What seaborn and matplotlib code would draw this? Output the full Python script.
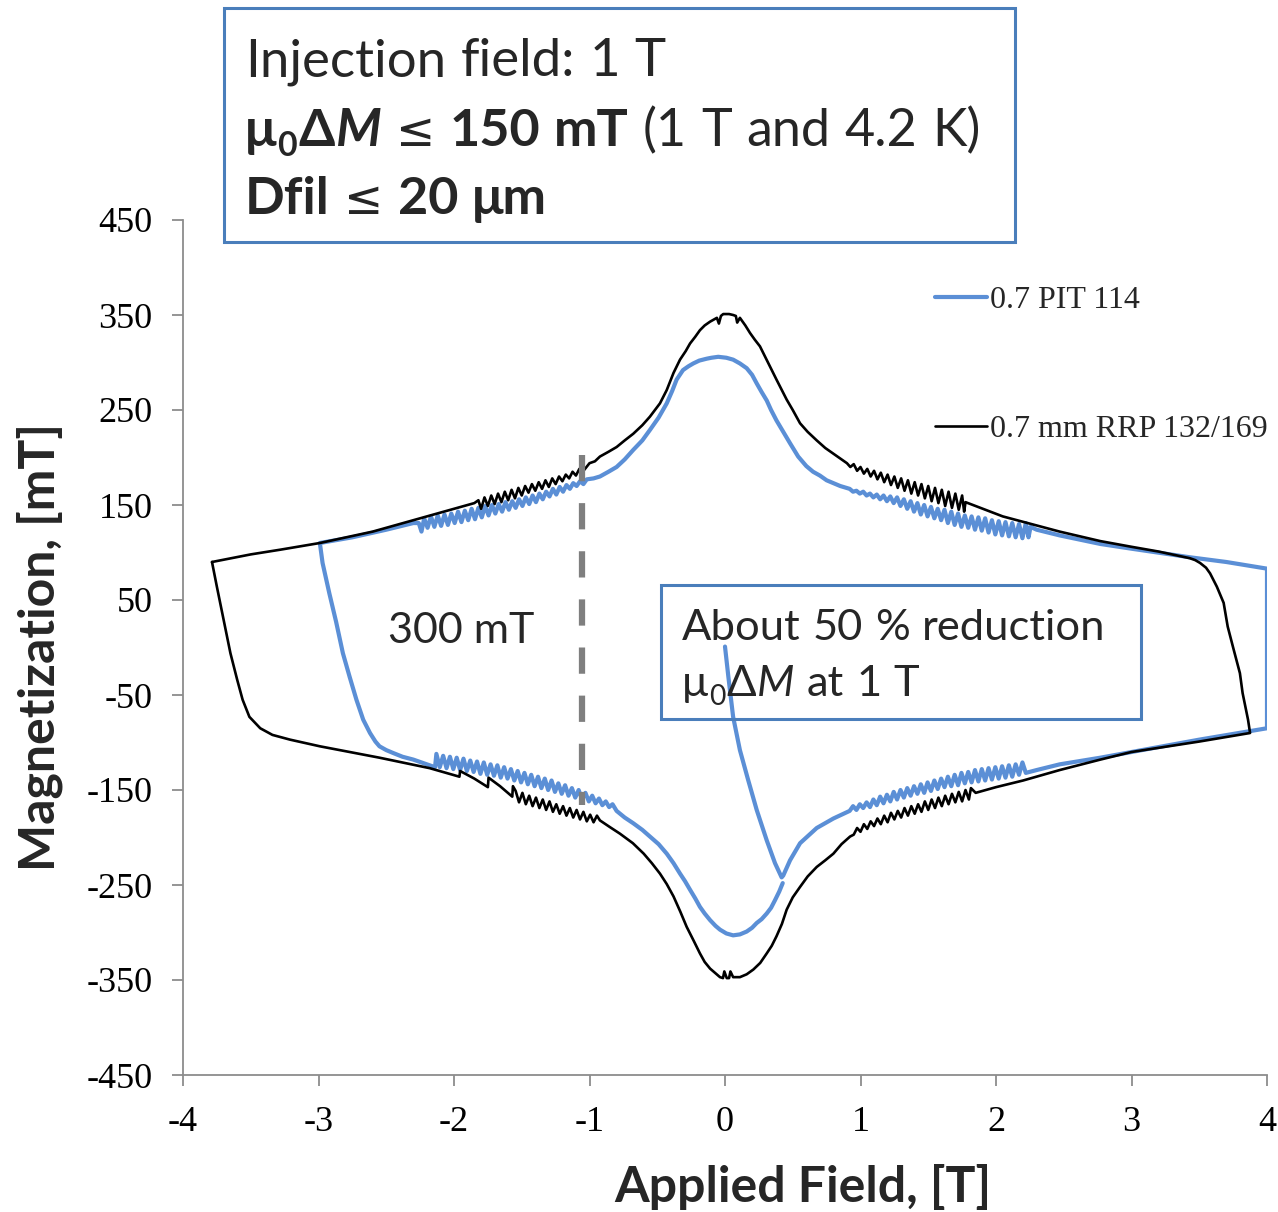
import matplotlib
matplotlib.use("Agg")
import matplotlib.pyplot as plt
import matplotlib.patches as mpatches
import numpy as np
import pandas as pd
import seaborn as sns

# ---------------- data ----------------
# 0.7 PIT 114 (blue) -- one continuous measurement path
pit_virgin = [(0.00, 1), (0.025, -31), (0.06, -73), (0.11, -108), (0.17, -139),
              (0.234, -171), (0.308, -203), (0.369, -227), (0.418, -242)]
pit_lower_right = [(0.43, -240), (0.48, -224), (0.554, -206), (0.677, -190), (0.80, -180),
                   (0.92, -172),
                   (0.945, -167), (0.97, -171), (0.995, -165), (1.02, -169), (1.045, -163),
                   (1.07, -168), (1.095, -160), (1.12, -166), (1.145, -157), (1.17, -164),
                   (1.195, -155), (1.22, -162), (1.245, -152), (1.27, -160), (1.295, -150),
                   (1.32, -158), (1.345, -148), (1.37, -156), (1.395, -146), (1.42, -154),
                   (1.445, -144), (1.47, -153), (1.495, -142), (1.52, -151), (1.545, -140),
                   (1.57, -149), (1.595, -138), (1.62, -147), (1.645, -136), (1.67, -146),
                   (1.695, -134), (1.72, -145), (1.745, -132), (1.77, -143), (1.795, -131),
                   (1.82, -142), (1.845, -129), (1.87, -141), (1.895, -128), (1.92, -140),
                   (1.945, -127), (1.97, -139), (1.995, -126), (2.02, -138), (2.045, -125),
                   (2.07, -137), (2.095, -124), (2.12, -136), (2.145, -123), (2.17, -134),
                   (2.195, -121), (2.22, -132), (2.30, -129), (2.47, -123), (2.77, -116),
                   (3.00, -110), (3.50, -97), (4.00, -85)]
pit_upper_right = [(4.00, 83), (3.70, 90), (3.43, 95), (3.00, 104), (2.77, 109), (2.47, 118),
                   (2.30, 124), (2.255, 127), (2.24, 116),
                   (2.22, 131), (2.195, 115), (2.17, 130), (2.145, 116), (2.12, 131),
                   (2.095, 117), (2.07, 132), (2.045, 118), (2.02, 133), (1.995, 119),
                   (1.97, 134), (1.945, 121), (1.92, 136), (1.895, 123), (1.87, 137),
                   (1.845, 124), (1.82, 138), (1.795, 126), (1.77, 139), (1.745, 127),
                   (1.72, 141), (1.695, 129), (1.67, 143), (1.645, 131), (1.62, 145),
                   (1.595, 134), (1.57, 146), (1.545, 136), (1.52, 148), (1.495, 138),
                   (1.47, 150), (1.445, 140), (1.42, 152), (1.395, 143), (1.37, 154),
                   (1.345, 146), (1.32, 156), (1.295, 149), (1.27, 158), (1.245, 152),
                   (1.22, 159), (1.195, 154), (1.17, 160), (1.145, 156), (1.12, 161),
                   (1.095, 158), (1.07, 162), (1.045, 160), (1.02, 164), (0.995, 162),
                   (0.97, 165), (0.945, 164), (0.92, 167)]
pit_peak = [(0.85, 170), (0.75, 176), (0.70, 181), (0.65, 185), (0.60, 191), (0.54, 201),
            (0.48, 215), (0.43, 227), (0.38, 239), (0.34, 250), (0.308, 260), (0.27, 269),
            (0.234, 278), (0.20, 287), (0.16, 294), (0.11, 299), (0.06, 303), (0.01, 305),
            (-0.05, 306), (-0.10, 305), (-0.135, 304), (-0.19, 302), (-0.234, 299),
            (-0.27, 296), (-0.31, 292), (-0.357, 282), (-0.39, 270), (-0.43, 257),
            (-0.49, 242), (-0.554, 229), (-0.61, 218), (-0.677, 208), (-0.74, 198),
            (-0.80, 190), (-0.86, 185), (-0.923, 180), (-0.97, 178)]
pit_upper_left = [(-1.02, 177), (-1.045, 172), (-1.07, 175), (-1.095, 170), (-1.12, 173),
                  (-1.145, 167), (-1.17, 171), (-1.195, 164), (-1.22, 169), (-1.245, 161),
                  (-1.27, 167), (-1.295, 159), (-1.32, 164), (-1.345, 156), (-1.37, 162),
                  (-1.395, 153), (-1.42, 160), (-1.445, 151), (-1.47, 158), (-1.495, 149),
                  (-1.52, 156), (-1.545, 147), (-1.57, 154), (-1.595, 145), (-1.62, 153),
                  (-1.645, 143), (-1.67, 151), (-1.695, 141), (-1.72, 150), (-1.745, 139),
                  (-1.77, 149), (-1.795, 137), (-1.82, 147), (-1.845, 135), (-1.87, 146),
                  (-1.895, 134), (-1.92, 144), (-1.945, 132), (-1.97, 143), (-1.995, 131),
                  (-2.02, 141), (-2.045, 129), (-2.07, 140), (-2.095, 128), (-2.12, 139),
                  (-2.145, 127), (-2.17, 138), (-2.195, 126), (-2.22, 136), (-2.24, 122),
                  (-2.26, 131), (-2.30, 131), (-2.50, 124), (-2.75, 116), (-2.99, 110)]
pit_descent = [(-2.97, 89), (-2.92, 57), (-2.87, 27), (-2.82, -6), (-2.77, -31),
               (-2.72, -55), (-2.67, -76), (-2.62, -90), (-2.58, -99), (-2.55, -104),
               (-2.50, -108), (-2.45, -111), (-2.38, -115), (-2.30, -118), (-2.18, -124)]
pit_lower_left = [(-2.14, -126), (-2.13, -112), (-2.105, -126), (-2.08, -114), (-2.055, -127),
                  (-2.03, -115), (-2.005, -128), (-1.98, -116), (-1.955, -129), (-1.93, -117),
                  (-1.905, -130), (-1.88, -119), (-1.855, -131), (-1.83, -120), (-1.805, -133),
                  (-1.78, -121), (-1.755, -134), (-1.73, -123), (-1.705, -135), (-1.68, -124),
                  (-1.655, -137), (-1.63, -126), (-1.605, -138), (-1.58, -128), (-1.555, -140),
                  (-1.53, -130), (-1.505, -142), (-1.48, -132), (-1.455, -144), (-1.43, -134),
                  (-1.405, -146), (-1.38, -136), (-1.355, -148), (-1.33, -138), (-1.305, -150),
                  (-1.28, -140), (-1.255, -152), (-1.23, -143), (-1.205, -154), (-1.18, -145),
                  (-1.155, -156), (-1.13, -148), (-1.105, -158), (-1.08, -150), (-1.055, -160),
                  (-1.03, -153), (-1.005, -162), (-0.98, -156), (-0.955, -164), (-0.93, -159),
                  (-0.905, -166), (-0.88, -162), (-0.855, -168), (-0.83, -165), (-0.80, -172)]
pit_trough = [(-0.74, -179), (-0.677, -185), (-0.61, -192), (-0.554, -199), (-0.49, -207),
              (-0.43, -217), (-0.38, -227), (-0.332, -238), (-0.295, -246), (-0.258, -255),
              (-0.22, -264), (-0.185, -273), (-0.15, -280), (-0.11, -287), (-0.07, -293),
              (-0.037, -297), (0.01, -301), (0.06, -303), (0.11, -302), (0.16, -299),
              (0.20, -295), (0.234, -290), (0.27, -286), (0.308, -280), (0.34, -274),
              (0.369, -266), (0.40, -257), (0.426, -248)]

# 0.7 mm RRP 132/169 (black) -- closed loop
rrp_upper_left = [(-3.786, 90), (-3.50, 98), (-3.28, 103), (-2.99, 110), (-2.60, 122),
                  (-2.30, 134), (-2.00, 146), (-1.85, 152), (-1.82, 155), (-1.80, 146),
                  (-1.775, 158), (-1.75, 149), (-1.725, 160), (-1.70, 151), (-1.675, 162),
                  (-1.65, 153), (-1.625, 164), (-1.60, 155), (-1.575, 166), (-1.55, 157),
                  (-1.525, 168), (-1.50, 160), (-1.475, 170), (-1.45, 163), (-1.425, 172),
                  (-1.40, 165), (-1.375, 174), (-1.35, 167), (-1.325, 176), (-1.30, 169),
                  (-1.275, 178), (-1.25, 172), (-1.225, 180), (-1.20, 175), (-1.175, 182),
                  (-1.15, 178), (-1.125, 185), (-1.10, 181), (-1.075, 188), (-1.05, 185),
                  (-1.00, 194), (-0.96, 196)]
rrp_peak = [(-0.923, 201), (-0.86, 206), (-0.80, 211), (-0.74, 218), (-0.677, 225),
            (-0.61, 234), (-0.554, 243), (-0.48, 257), (-0.43, 271), (-0.38, 289),
            (-0.332, 303), (-0.29, 312), (-0.258, 320), (-0.22, 327), (-0.185, 334),
            (-0.15, 339), (-0.11, 343), (-0.06, 347), (-0.045, 341), (-0.03, 349),
            (-0.013, 351), (0.03, 351), (0.06, 350), (0.08, 349), (0.09, 342),
            (0.11, 347), (0.15, 339), (0.185, 331), (0.22, 324), (0.258, 317),
            (0.30, 305), (0.332, 296), (0.38, 282), (0.455, 261), (0.50, 250),
            (0.554, 236), (0.61, 227), (0.677, 218), (0.74, 210), (0.80, 204),
            (0.86, 198)]
rrp_upper_right = [(0.90, 194), (0.925, 190), (0.95, 193), (0.975, 186), (1.00, 190),
                   (1.025, 183), (1.05, 188), (1.075, 180), (1.10, 186), (1.125, 177),
                   (1.15, 184), (1.175, 174), (1.20, 182), (1.225, 171), (1.25, 180),
                   (1.275, 168), (1.30, 178), (1.325, 165), (1.35, 176), (1.375, 162),
                   (1.40, 174), (1.425, 160), (1.45, 172), (1.475, 157), (1.50, 170),
                   (1.525, 154), (1.55, 168), (1.575, 152), (1.60, 166), (1.625, 149),
                   (1.65, 164), (1.675, 147), (1.70, 162), (1.725, 145), (1.75, 160),
                   (1.765, 143), (1.775, 153), (2.05, 138), (2.47, 122), (2.77, 112),
                   (3.00, 106), (3.20, 101), (3.43, 94)]
rrp_right_side = [(3.47, 92), (3.506, 89), (3.55, 84), (3.58, 78), (3.63, 64), (3.68, 47),
                  (3.71, 22), (3.75, 0), (3.80, -27), (3.82, -48), (3.86, -76), (3.875, -90)]
rrp_lower_right = [(3.50, -99), (3.00, -110), (2.77, -118), (2.47, -129), (2.20, -140),
                   (2.00, -147), (1.85, -153), (1.815, -148), (1.80, -160), (1.775, -150),
                   (1.75, -162), (1.725, -152), (1.70, -163), (1.675, -154), (1.65, -165),
                   (1.625, -156), (1.60, -167), (1.575, -158), (1.55, -169), (1.525, -160),
                   (1.50, -171), (1.475, -162), (1.45, -173), (1.425, -165), (1.40, -175),
                   (1.375, -167), (1.35, -177), (1.325, -169), (1.30, -179), (1.275, -172),
                   (1.25, -181), (1.225, -174), (1.20, -184), (1.175, -177), (1.15, -186),
                   (1.125, -180), (1.10, -188), (1.075, -183), (1.05, -191), (1.025, -186),
                   (1.00, -194), (0.975, -190), (0.95, -197), (0.923, -199)]
rrp_trough = [(0.86, -207), (0.80, -217), (0.74, -224), (0.677, -231), (0.61, -241),
              (0.554, -252), (0.50, -263), (0.455, -276), (0.42, -291), (0.38, -304),
              (0.345, -314), (0.308, -322), (0.26, -332), (0.209, -339), (0.16, -344),
              (0.11, -347), (0.06, -347), (0.04, -341), (0.03, -348), (0.013, -348),
              (-0.005, -341), (-0.015, -348), (-0.037, -347), (-0.07, -343),
              (-0.11, -338), (-0.15, -331), (-0.185, -322), (-0.23, -309), (-0.283, -294),
              (-0.33, -278), (-0.38, -262), (-0.43, -249), (-0.48, -238), (-0.54, -227),
              (-0.60, -217), (-0.68, -206), (-0.775, -196), (-0.85, -189), (-0.923, -182)]
rrp_lower_left = [(-0.945, -177), (-0.97, -184), (-0.995, -176), (-1.02, -183), (-1.045, -173),
                  (-1.07, -181), (-1.095, -171), (-1.12, -179), (-1.145, -169), (-1.17, -177),
                  (-1.195, -167), (-1.22, -175), (-1.245, -165), (-1.27, -173), (-1.295, -162),
                  (-1.32, -171), (-1.345, -160), (-1.37, -169), (-1.395, -158), (-1.42, -167),
                  (-1.445, -156), (-1.47, -165), (-1.495, -153), (-1.52, -163), (-1.545, -151),
                  (-1.565, -146), (-1.57, -157), (-1.66, -146), (-1.745, -137), (-1.75, -147),
                  (-1.85, -138), (-1.955, -130), (-1.96, -136), (-2.18, -127), (-2.55, -116),
                  (-2.99, -104), (-3.21, -97), (-3.34, -92), (-3.43, -85)]
rrp_left_side = [(-3.51, -73), (-3.56, -55), (-3.60, -34), (-3.65, -6), (-3.70, 29),
                 (-3.75, 64), (-3.786, 90)]

series_names = ["0.7 PIT 114", "0.7 mm RRP 132/169"]
x_ticks = [-4, -3, -2, -1, 0, 1, 2, 3, 4]
y_ticks = [-450, -350, -250, -150, -50, 50, 150, 250, 350, 450]
dash_field = [-1.055, -1.055]
dash_mag = [203, -166]

# ---------------- build tables ----------------
pit = pd.DataFrame(pit_virgin + pit_lower_right + pit_upper_right + pit_peak +
                   pit_upper_left + pit_descent + pit_lower_left + pit_trough,
                   columns=["field", "mag"])
rrp = pd.DataFrame(rrp_upper_left + rrp_peak + rrp_upper_right + rrp_right_side +
                   rrp_lower_right + rrp_trough + rrp_lower_left + rrp_left_side,
                   columns=["field", "mag"])

BLUE = "#5B8FD6"
FRAME = "#4A7EBB"
GREY = "#8C8C8C"

sns.set_theme(style="ticks")
plt.rcParams["font.family"] = ["Liberation Serif", "DejaVu Sans"]
plt.rcParams["axes.unicode_minus"] = False

W, H = 1278, 1212
fig = plt.figure(figsize=(W / 100, H / 100), dpi=100)
ax = fig.add_axes([183 / W, (H - 1075) / H, 1084 / W, 855 / H])

sns.lineplot(data=pit, x="field", y="mag", sort=False, estimator=None, color=BLUE,
             lw=3.0, ax=ax, legend=False)
sns.lineplot(data=rrp, x="field", y="mag", sort=False, estimator=None, color="black",
             lw=1.9, ax=ax, legend=False)
sns.lineplot(x=dash_field, y=dash_mag, sort=False, estimator=None, color="#7F7F7F",
             lw=4.5, dashes=False, ax=ax, legend=False)
ax.lines[-1].set_dashes([4.2, 3.5])

ax.set_xlim(-4, 4)
ax.set_ylim(-450, 450)
ax.set_xticks(x_ticks)
ax.set_yticks(y_ticks)
ax.set_xticklabels([str(v) for v in x_ticks])
ax.set_yticklabels([str(v) for v in y_ticks])
ax.set_xlabel("")
ax.set_ylabel("")
for s in ["top", "right"]:
    ax.spines[s].set_visible(False)
for s in ["left", "bottom"]:
    ax.spines[s].set_color(GREY)
    ax.spines[s].set_linewidth(1.3)
ax.tick_params(axis="both", direction="out", length=8, width=1.3, color=GREY,
               labelsize=26, pad=14, labelcolor="black")
for lab in ax.get_xticklabels() + ax.get_yticklabels():
    lab.set_family("Liberation Serif")

# legend
handles = [ax.lines[0], ax.lines[1]]
ax.legend(handles, series_names, loc="upper left",
          bbox_to_anchor=(935 / W, 1 - 286 / H), bbox_transform=fig.transFigure,
          frameon=False, prop={"family": "Liberation Serif", "size": 23},
          handlelength=1.63, handletextpad=0.1, labelspacing=3.1,
          borderpad=0, borderaxespad=0)

# axis titles
SANS = "Lato"
fig.text(803 / W, 1 - 1187 / H, "Applied Field, [T]", ha="center", va="center",
         fontsize=36, fontweight="bold", family=SANS)
fig.text(40 / W, 1 - 647 / H, "Magnetization, [mT]", ha="center", va="center",
         rotation=90, fontsize=36, fontweight="bold", family=SANS)

renderer = fig.canvas.get_renderer()


def rich(x_px, y_px, pieces, size):
    x = x_px
    for piece in pieces:
        txt, weight, style, sub = piece[:4]
        fam = piece[4] if len(piece) > 4 else SANS
        if txt == " ":
            t = fig.text(0, 0, "a a", fontsize=size, family=SANS, fontweight=weight)
            t2 = fig.text(0, 0, "aa", fontsize=size, family=SANS, fontweight=weight)
            w = t.get_window_extent(renderer).width - t2.get_window_extent(renderer).width
            t.remove()
            t2.remove()
            x += w
            continue
        fs = size * 0.65 if sub else size
        if fam != SANS:
            fs = size * 0.9
        yy = y_px + (size * 100 / 72 * 0.2 if sub else 0)
        t = fig.text(x / W, 1 - yy / H, txt, fontsize=fs, fontweight=weight,
                     fontstyle=style, family=fam, ha="left", va="baseline")
        x += t.get_window_extent(renderer).width + 1


LE = ("≤", "normal", "normal", False, "DejaVu Sans")

# top info box
fig.add_artist(mpatches.Rectangle((224 / W, 1 - 242 / H), 791 / W, 234 / H,
                                  transform=fig.transFigure, fill=False,
                                  edgecolor=FRAME, lw=2.2))
TS = 37.5
rich(245, 76, [("Injection", "normal", "normal", False), (" ", "normal", "normal", False),
               ("field:", "normal", "normal", False), (" ", "normal", "normal", False),
               ("1", "normal", "normal", False), (" ", "normal", "normal", False),
               ("T", "normal", "normal", False)], TS + 0.5)
rich(245, 146, [("μ", "bold", "normal", False), ("0", "bold", "normal", True),
                ("Δ", "bold", "normal", False), ("M", "bold", "italic", False),
                (" ", "normal", "normal", False), LE,
                (" ", "normal", "normal", False), ("150", "bold", "normal", False),
                (" ", "bold", "normal", False), ("mT", "bold", "normal", False),
                (" ", "normal", "normal", False), ("(1", "normal", "normal", False),
                (" ", "normal", "normal", False), ("T", "normal", "normal", False),
                (" ", "normal", "normal", False), ("and", "normal", "normal", False),
                (" ", "normal", "normal", False), ("4.2", "normal", "normal", False),
                (" ", "normal", "normal", False), ("K)", "normal", "normal", False)], TS)
rich(245, 214, [("Dfil", "bold", "normal", False), (" ", "normal", "normal", False),
                LE, (" ", "normal", "normal", False),
                ("20", "bold", "normal", False), (" ", "bold", "normal", False),
                ("μm", "bold", "normal", False)], TS)

# reduction box
fig.add_artist(mpatches.Rectangle((661 / W, 1 - 719 / H), 480 / W, 134 / H,
                                  transform=fig.transFigure, fill=False,
                                  edgecolor=FRAME, lw=2.2))
RS = 31.3
rich(682, 640, [("About", "normal", "normal", False), (" ", "normal", "normal", False),
                ("50", "normal", "normal", False), (" ", "normal", "normal", False),
                ("%", "normal", "normal", False), (" ", "normal", "normal", False),
                ("reduction", "normal", "normal", False)], RS)
rich(682, 696, [("μ", "normal", "normal", False), ("0", "normal", "normal", True),
                ("Δ", "normal", "normal", False), ("M", "normal", "italic", False),
                (" ", "normal", "normal", False), ("at", "normal", "normal", False),
                (" ", "normal", "normal", False), ("1", "normal", "normal", False),
                (" ", "normal", "normal", False), ("T", "normal", "normal", False)], RS)

fig.text(388 / W, 1 - 643 / H, "300 mT", fontsize=31, family=SANS, ha="left",
         va="baseline")

fig.savefig("out.png", dpi=100)
